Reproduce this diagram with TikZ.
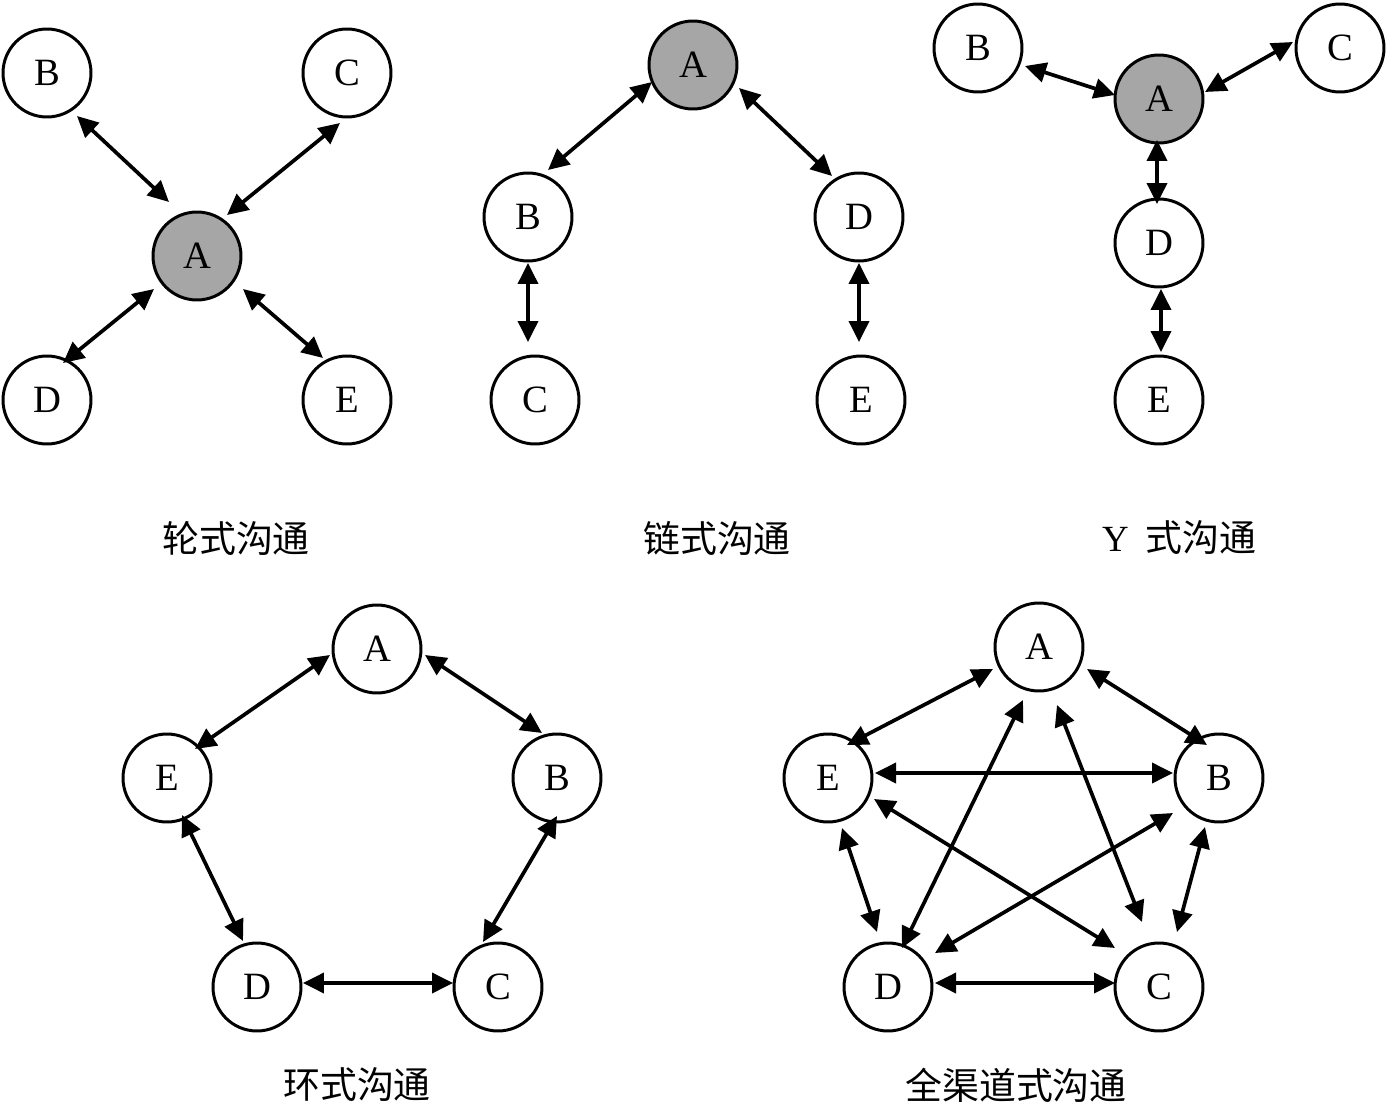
\documentclass[tikz,border=0pt]{standalone}
\usepackage{fontspec}
\setmainfont{Liberation Serif}
\newfontfamily\cjk{Noto Sans CJK SC}
\usetikzlibrary{arrows.meta,calc}
\definecolor{nodegray}{RGB}{166,166,166}
\tikzset{
  nd/.style={circle,draw=black,line width=1.7pt,fill=white,minimum size=1.76cm,inner sep=0pt,font=\fontsize{22}{22}\selectfont},
  hub/.style={nd,fill=nodegray},
  arr/.style={line width=2.1pt,{Triangle[length=0.42cm,width=0.4cm]}-{Triangle[length=0.42cm,width=0.4cm]}},
  lbl/.style={font=\fontsize{21}{21}\selectfont\cjk,inner sep=0pt}
}
\begin{document}
\begin{tikzpicture}[x=0.02cm,y=-0.02cm]
\useasboundingbox (0,0) rectangle (1387,1105);
% wheel
\node[nd] (wB) at (47,73) {B};
\node[nd] (wC) at (347,73) {C};
\node[hub] (wA) at (197,256) {A};
\node[nd] (wD) at (47,400) {D};
\node[nd] (wE) at (347,400) {E};
\draw[arr] ($(wB)+(30,43)$) -- ($(wA)+(-28,-54)$);
\draw[arr] ($(wC)+(-7,50)$) -- ($(wA)+(30,-41)$);
\draw[arr] ($(wA)+(-43,33)$) -- ($(wD)+(16,-37)$);
\draw[arr] ($(wA)+(46,33)$) -- ($(wE)+(-24,-42)$);
\node[lbl] (wL) at (236,538) {轮式沟通};
% chain
\node[hub] (cA) at (693,65) {A};
\node[nd] (cB) at (528,217) {B};
\node[nd] (cD) at (859,217) {D};
\node[nd] (cC) at (535,400) {C};
\node[nd] (cE) at (861,400) {E};
\draw[arr] ($(cA)+(-41,17)$) -- ($(cB)+(20,-47)$);
\draw[arr] ($(cA)+(46,23)$) -- ($(cD)+(-27,-41)$);
\draw[arr] ($(cB)+(0,46)$) -- ($(cC)+(-7,-58)$);
\draw[arr] ($(cD)+(0,46)$) -- ($(cE)+(-2,-58)$);
\node[lbl] (cL) at (717,538) {链式沟通};
% Y
\node[nd] (yB) at (978,48) {B};
\node[nd] (yC) at (1340,48) {C};
\node[hub] (yA) at (1159,99) {A};
\node[nd] (yD) at (1159,243) {D};
\node[nd] (yE) at (1159,400) {E};
\draw[arr] ($(yB)+(47,18)$) -- ($(yA)+(-44,-4)$);
\draw[arr] ($(yC)+(-47,-6)$) -- ($(yA)+(46,-7)$);
\draw[arr] ($(yA)+(-2,41)$) -- ($(yD)+(-2,-39)$);
\draw[arr] ($(yD)+(2,46)$) -- ($(yE)+(2,-48)$);
\node[lbl] (yL) at (1179,538) {{\rmfamily Y}\ \ 式沟通};
% ring
\node[nd] (rA) at (377,649) {A};
\node[nd] (rE) at (167,778) {E};
\node[nd] (rB) at (557,778) {B};
\node[nd] (rD) at (257,987) {D};
\node[nd] (rC) at (498,987) {C};
\draw[arr] ($(rA)+(-47,6)$) -- ($(rE)+(28,-29)$);
\draw[arr] ($(rA)+(48,6)$) -- ($(rB)+(-15,-45)$);
\draw[arr] ($(rE)+(15,37)$) -- ($(rD)+(-14,-46)$);
\draw[arr] ($(rB)+(0,38)$) -- ($(rC)+(-15,-45)$);
\draw[arr] ($(rD)+(46,-4)$) -- ($(rC)+(-45,-4)$);
\node[lbl] (rL) at (357,1085) {环式沟通};
% full
\node[nd] (fA) at (1039,647) {A};
\node[nd] (fE) at (828,778) {E};
\node[nd] (fB) at (1219,778) {B};
\node[nd] (fD) at (888,987) {D};
\node[nd] (fC) at (1159,987) {C};
\draw[arr] ($(fA)+(-46,22)$) -- ($(fE)+(19,-33)$);
\draw[arr] ($(fA)+(48,22)$) -- ($(fB)+(-12,-33)$);
\draw[arr] ($(fE)+(47,-5)$) -- ($(fB)+(-46,-5)$);
\draw[arr] ($(fA)+(-16,53)$) -- ($(fD)+(14,-39)$);
\draw[arr] ($(fA)+(18,58)$) -- ($(fC)+(-17,-65)$);
\draw[arr] ($(fE)+(46,21)$) -- ($(fC)+(-44,-39)$);
\draw[arr] ($(fB)+(-46,35)$) -- ($(fD)+(47,-34)$);
\draw[arr] ($(fE)+(14,50)$) -- ($(fD)+(-11,-55)$);
\draw[arr] ($(fB)+(-14,49)$) -- ($(fC)+(18,-55)$);
\draw[arr] ($(fD)+(47,-4)$) -- ($(fC)+(-44,-4)$);
\node[lbl] (fL) at (1016,1085) {全渠道式沟通};
\end{tikzpicture}
\end{document}
